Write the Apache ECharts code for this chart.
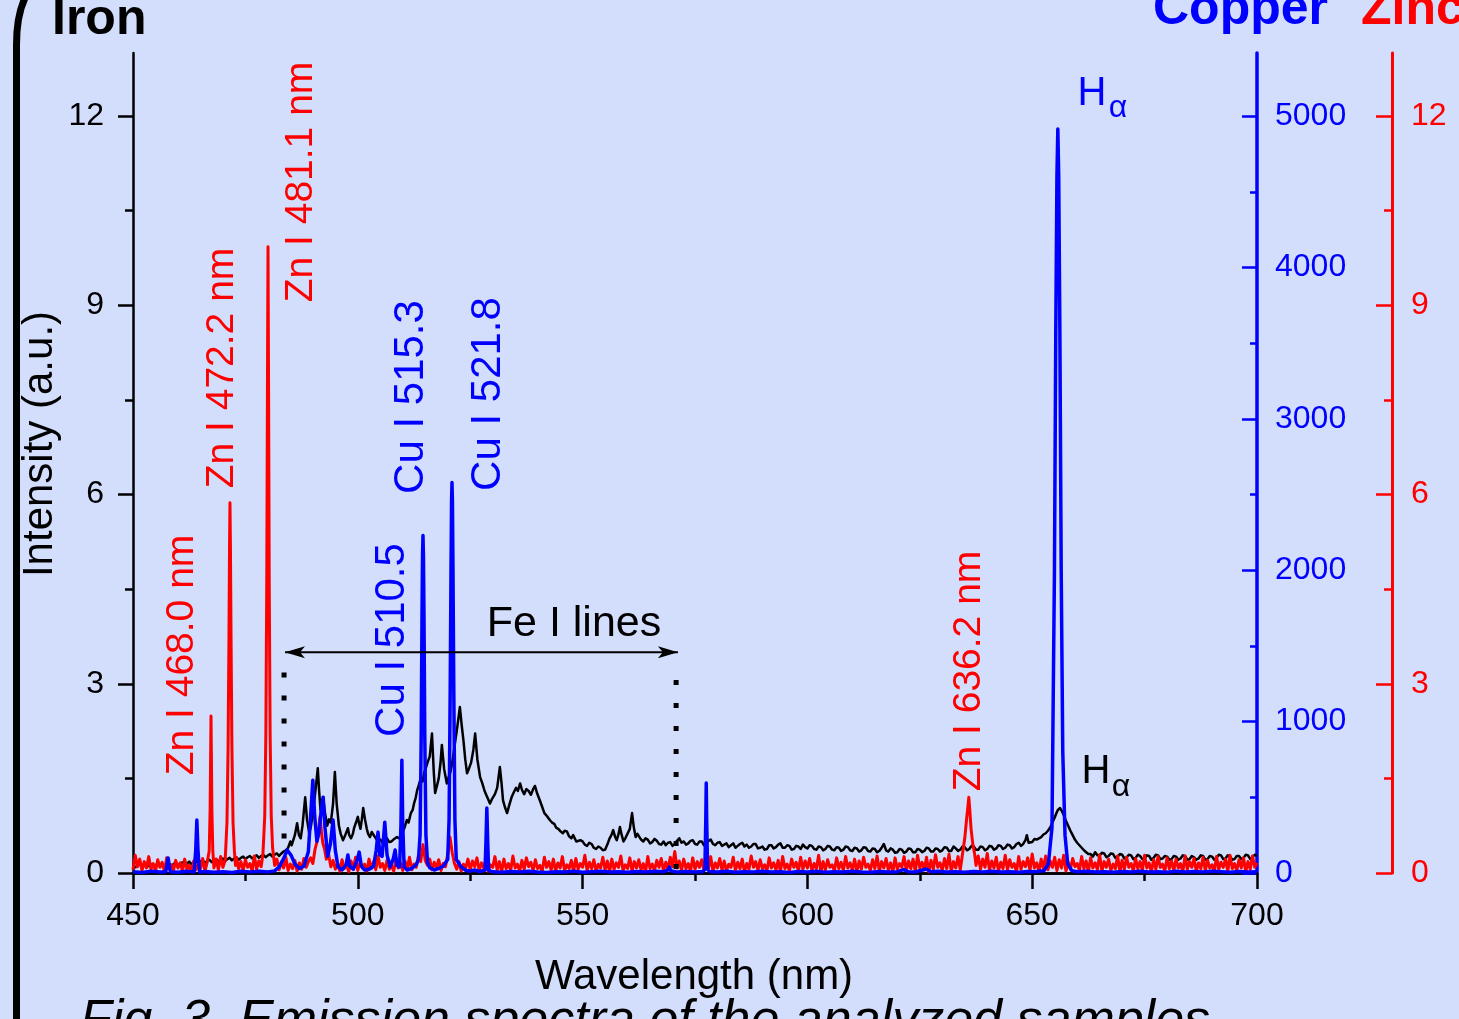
<!DOCTYPE html>
<html><head><meta charset="utf-8">
<script src="https://cdn.jsdelivr.net/npm/echarts@6/dist/echarts.min.js"></script>
<style>html,body{margin:0;padding:0;background:#d3ddfc;overflow:hidden}#c{width:1459px;height:1019px}</style>
</head><body><div id="c"></div><script>
// ---- data (wavelength nm, intensity) ----
const ironData = [[450,.12],[450.5,.09],[451,.11],[451.5,.14],[452,.10],[452.5,.13],[453,.09],[453.5,.12],[454,.14],[454.5,.10],[455,.12],[455.5,.15],[456,.11],[456.5,.14],[457,.10],[457.5,.13],[458,.15],[458.5,.11],[459,.14],[459.5,.16],[460,.12],[460.5,.15],[461,.17],[461.5,.13],[462,.15],[462.5,.18],[463,.14],[463.5,.17],[464,.19],[464.5,.15],[465,.18],[465.5,.20],[466,.16],[466.5,.19],[467,.21],[467.5,.17],[468,.20],[468.5,.22],[469,.18],[469.5,.21],[470,.23],[470.5,.19],[471,.22],[471.5,.24],[472,.20],[472.5,.23],[473,.25],[473.5,.21],[474,.24],[474.5,.26],[475,.22],[475.5,.25],[476,.27],[476.5,.23],[477,.26],[477.5,.28],[478,.24],[478.5,.27],[479,.29],[479.5,.25],[480,.28],[480.5,.30],[481,.26],[481.5,.29],[482,.31],[482.5,.27],[483,.31],[483.5,.34],
[484,.36],[484.5,.40],[485,.50],[485.3,.44],[485.6,.47],[486,.60],[486.5,.79],[486.9,.60],[487.3,.55],[487.7,.75],[488.3,1.20],[488.7,.85],[489.2,.63],[489.6,.75],[490,.95],[490.5,1.25],[491.1,1.66],[491.4,1.30],[491.7,1.0],[492,1.10],[492.3,1.2],[492.7,.95],[493.2,.75],[493.6,.85],[494,.8],[494.5,1.1],[494.9,1.6],[495.3,1.1],[495.8,.75],[496.2,.62],[496.7,.52],[497.2,.60],[497.8,.71],[498.1,.60],[498.5,.55],[498.9,.62],[499.2,.72],[499.6,.80],[500,.89],[500.3,.78],[500.6,.70],[500.9,.85],[501.2,1.03],[501.6,.85],[502,.70],[502.3,.62],[502.7,.57],[503.1,.65],[503.5,.62],[504,.55],[504.5,.50],[505,.53],[505.6,.47],[506,.52],[506.5,.55],[507,.49],[507.5,.50],[508.1,.54],[508.7,.57],[509.2,.55],[509.8,.62],[510.4,.72],[510.9,.84],[511.3,.80],[511.8,.95],[512.2,1.0],[512.5,1.10],[512.9,1.20],[513.2,1.31],[513.6,1.40],[514,1.50],[514.4,1.45],[514.8,1.60],[515.2,1.68],[515.5,1.75],[516,1.85],[516.5,2.21],[516.9,1.6],[517.2,1.27],[517.6,1.38],[518,1.50],[518.4,1.75],[518.7,2.03],[519.2,1.65],[519.8,1.42],[520.2,1.52],[520.6,1.60],[521,1.75],[521.5,2.0],[522.1,2.3],[522.7,2.63],[523.1,2.35],[523.5,2.10],[523.9,1.80],[524.3,1.58],[524.7,1.65],[525.2,1.75],[525.7,1.95],[526.1,2.21],[526.6,1.80],[527.2,1.52],[527.7,1.42],[528.2,1.30],[528.8,1.20],[529.4,1.10],[529.9,1.18],[530.5,1.25],[531,1.35],[531.6,1.68],[532,1.40],[532.3,1.15],[532.7,1.05],[533.2,.95],[533.7,1.08],[534.2,1.20],[534.7,1.28],[535.2,1.35],[535.6,1.30],[536.1,1.42],[536.5,1.32],[537,1.25],[537.5,1.33],[538,1.30],[538.5,1.24],[539,1.33],[539.4,1.38],[539.9,1.26],[540.5,1.15],[541,1.05],[541.5,.95],[542.1,.90],[542.7,.84],[543.2,.80],[543.7,.78],[544.1,.72],[544.6,.70],[545.1,.66],[545.6,.63],[546,.67],[546.5,.66],[547,.58],[547.5,.55],[547.9,.60],[548.2,.58],[548.6,.50],[549,.47],[549.5,.52],[550,.50],[550.5,.45],[551,.43],[551.5,.48],[552,.46],[552.5,.40],[553,.38],[553.5,.42],[554,.40],[554.5,.36],[555,.37],[555.5,.45],[556,.55],[556.4,.60],[556.8,.68],[557.2,.58],[557.6,.52],[558,.62],[558.3,.73],[558.7,.60],[559.1,.50],[559.5,.55],[559.9,.52],[560.5,.70],[561,.95],[561.4,.72],[561.8,.57],[562.2,.62],[562.6,.60],[563,.53],[563.5,.50],[564,.55],[564.5,.53],[565,.47],[565.5,.49],[566,.54],[566.5,.51],[567,.46],[567.5,.45],[568,.50],[568.5,.44],[569,.48],[569.5,.49],[570,.43],[570.5,.46],[571,.51],[571.5,.55],[572,.48],[572.5,.50],[573,.45],[573.5,.47],[574,.51],[574.5,.52],[575,.46],[575.5,.45],[576,.50],[576.5,.50],[577,.44],[577.5,.47],[578,.51],[578.5,.53],[579,.46],[579.5,.44],[580,.48],[580.5,.49],[581,.43],[581.5,.45],[582,.47],[582.5,.41],[583,.44],[583.5,.47],[584,.40],[584.5,.43],[585,.46],[585.5,.48],[586,.42],[586.5,.45],[587,.40],[587.5,.42],[588,.46],[588.5,.46],[589,.39],[589.5,.40],
[590,.42],[590.5,.37],[591,.38],[591.5,.44],[592,.44],[592.5,.39],[593,.41],[593.5,.45],[594,.47],[594.5,.40],[595,.40],[595.5,.44],[596,.43],[596.5,.37],[597,.38],[597.5,.43],[598,.42],[598.5,.38],[599,.45],[599.5,.41],[600,.39],[600.5,.44],[601,.43],[601.5,.38],[602,.37],[602.5,.42],[603,.41],[603.5,.36],[604,.38],[604.5,.43],[605,.42],[605.5,.37],[606,.36],[606.5,.41],[607,.40],[607.5,.35],[608,.37],[608.5,.42],[609,.41],[609.5,.36],[610,.35],[610.5,.40],[611,.39],[611.5,.34],[612,.36],[612.5,.41],[613,.40],[613.5,.35],[614,.34],[614.5,.39],[615,.38],[615.5,.33],[616,.35],[616.5,.40],[617,.46],[617.5,.36],[618,.34],[618.5,.39],[619,.37],[619.5,.32],[620,.33],[620.5,.38],[621,.37],[621.5,.32],[622,.34],[622.5,.39],[623,.38],[623.5,.33],[624,.33],[624.5,.38],[625,.37],[625.5,.33],[626,.35],[626.5,.40],[627,.39],[627.5,.34],[628,.34],[628.5,.39],[629,.38],[629.5,.34],[630,.36],[630.5,.41],[631,.40],[631.5,.35],[632,.35],[632.5,.42],[633,.39],[633.5,.35],[634,.37],[634.5,.42],[635,.41],[635.5,.36],[636,.38],[636.5,.43],[637,.42],[637.5,.37],[638,.37],[638.5,.42],[639,.41],[639.5,.36],[640,.38],[640.5,.43],[641,.42],[641.5,.37],[642,.39],[642.5,.44],[643,.43],[643.5,.38],[644,.40],[644.5,.45],[645,.44],[645.5,.39],[646,.41],[646.5,.46],[647,.48],[647.5,.43],[648,.46],[648.5,.52],[648.8,.60],[649.2,.48],[649.5,.50],[650,.49],[650.5,.54],[651,.53],[651.5,.55],[652,.57],[652.5,.61],[653,.63],[653.5,.67],[654,.72],[654.5,.80],[655,.88],[655.4,.95],[655.7,1.0],[656.2,1.03],[656.6,.98],[657,.92],[657.5,.83],[658,.75],[658.5,.67],[659,.60],[659.5,.53],[660,.48],[660.5,.44],[661,.40],[661.5,.36],[662,.33],[662.5,.30],[663,.30],[663.5,.26],[664,.33],[664.5,.28],[665,.28],[665.5,.32],[666,.31],[666.5,.25],[667,.27],[667.5,.31],[668,.30],[668.5,.24],[669,.26],[669.5,.30],[670,.29],[670.5,.23],[671,.25],[671.5,.29],[672,.28],[672.5,.22],[673,.24],[673.5,.29],[674,.27],[674.5,.22],[675,.23],[675.5,.28],[676,.27],[676.5,.21],[677,.24],[677.5,.29],[678,.28],[678.5,.22],[679,.23],[679.5,.27],[680,.26],[680.5,.21],[681,.22],[681.5,.27],[682,.26],[682.5,.21],[683,.23],[683.5,.28],[684,.27],[684.5,.21],[685,.22],[685.5,.27],[686,.25],[686.5,.21],[687,.23],[687.5,.28],[688,.27],[688.5,.21],[689,.22],[689.5,.27],[690,.26],[690.5,.21],[691,.24],[691.5,.29],[692,.28],[692.5,.22],[693,.23],[693.5,.28],[694,.26],[694.5,.21],[695,.22],[695.5,.27],[696,.27],[696.5,.22],[697,.24],[697.5,.29],[698,.28],[698.5,.22],[699,.25],[699.5,.29],[700,.27]];

const copperData = [[450,8],[452,4],[454,12],[456,6],[457.3,9],[457.8,99],[458.3,8],[460,5],[462,11],[463.6,7],[463.95,150],[464.2,350],[464.45,150],[464.8,7],[466,10],[468,5],[470,9],[472,4],[474,11],[476,6],[478,12],[480,7],[481.5,14],[482.5,40],[483.5,95],[484.3,152],[485.2,115],[486,60],[487,30],[488,45],[489,140],[489.6,420],[490,613],[490.4,380],[490.9,210],[491.4,270],[491.9,430],[492.3,501],[492.7,300],[493.3,110],[493.9,190],[494.5,350],[495,150],[495.6,40],[496.5,20],[497.4,55],[497.8,119],[498.2,45],[499,25],[499.8,80],[500.3,138],[500.8,45],[501.5,20],[502.5,25],[503.5,45],[504.1,150],[504.5,270],[504.9,120],[505.4,110],[506,336],[506.5,120],[507.2,40],[507.9,95],[508.3,152],[508.7,50],[509.3,40],[509.6,320],[509.8,745],[510,320],[510.3,40],[511,20],[512,30],[513,55],[513.5,90],[513.85,250],[514.1,900],[514.28,1700],[514.4,2100],[514.5,2229],[514.6,2100],[514.72,1700],[514.9,900],[515.15,250],[515.5,70],[516,35],[517,20],[518,30],[519,45],[520,90],[520.3,350],[520.55,1200],[520.73,2000],[520.85,2450],[520.95,2579],[521.05,2450],[521.17,2000],[521.35,1200],[521.6,350],[521.9,90],[523,40],[524,18],[525,12],[526,20],[527,10],[528.3,18],[528.5,200],[528.7,429],[528.9,200],[529.1,18],[530,8],[532,5],[534,10],[536,6],[538,12],[540,7],[542,4],[544,9],[546,6],[548,11],[550,5],[552,8],[554,12],[556,6],[558,9],[560,5],[562,10],[564,7],[566,12],[568,8],[569,20],[569.3,40],[569.6,15],[571,6],[573,10],[575,7],[576.8,10],[577.2,25],[577.4,350],[577.5,594],[577.6,350],[577.8,25],[578.2,10],[580,6],[582,11],[584,5],[586,9],[588,7],[590,12],[592,6],[594,9],[596,4],[598,10],[600,7],[602,12],[604,5],[606,9],[608,6],[610,11],[612,7],[614,5],[616,10],[618,6],[620,9],[621.4,22],[622.5,8],[624,7],[626.4,26],[627.5,8],[629,11],[631,6],[633,9],[635,5],[637,10],[639,6],[641,12],[643,7],[645,9],[647,5],[649,10],[650.5,8],[651.5,12],[652.6,15],[653.6,60],[654.4,300],[654.95,2000],[655.25,3600],[655.5,4600],[655.7,4914],[655.9,4600],[656.15,3600],[656.45,2000],[656.8,800],[657.3,250],[657.9,60],[658.8,15],[660,8],[662,11],[664,6],[666,9],[668,5],[670,10],[672,7],[674,12],[676,6],[678,9],[680,5],[682,11],[684,7],[686,10],[688,6],[690,12],[692,8],[694,5],[696,10],[698,7],[700,9]];

const zincData = [[450,.05],[450.5,.28],[451,.10],[451.5,.22],[452,.04],[452.5,.18],[453,.08],[453.5,.26],[454,.06],[454.5,.15],[455,.03],[455.5,.21],[456,.09],[456.5,.17],[457,.02],[457.5,.24],[458,.07],[458.5,.13],[459,.04],[459.5,.20],[460,.08],[460.5,.16],[461,.03],[461.5,.22],[462,.06],[462.5,.12],[463,.02],[463.5,.19],[464,.05],[464.5,.14],[465,.07],[465.5,.23],[466,.03],[466.5,.17],[466.95,.35],[467.15,1.0],[467.27,1.9],[467.35,2.49],[467.43,1.9],[467.55,1.0],[467.75,.35],[468,.08],[468.5,.22],[469,.05],[469.5,.26],[470,.09],[470.5,.20],[470.9,.8],[471.15,2.0],[471.35,3.8],[471.47,5.2],[471.57,5.87],[471.67,5.2],[471.8,3.8],[472,2.0],[472.25,.8],[472.55,.35],[472.8,.12],[473,.24],[473.5,.07],[474,.18],[474.5,.04],[475,.21],[475.5,.09],[476,.15],[476.5,.03],[477,.27],[477.5,.06],[478,.19],[478.5,.10],[478.9,.30],[479.3,.9],[479.55,2.2],[479.75,4.6],[479.9,7.6],[480.03,9.93],[480.16,7.6],[480.3,4.6],[480.5,2.2],[480.75,.9],[481.05,.4],[481.5,.12],[482,.22],[482.5,.05],[483,.17],[483.5,.08],[484,.25],[484.5,.04],[485,.14],[485.5,.07],[486,.20],[486.5,.03],[487,.16],[487.5,.06],[488,.23],[488.5,.09],[489,.18],[489.5,.24],[490,.15],[490.5,.38],[491,.52],[491.3,.70],[491.6,.89],[491.9,.66],[492.2,.48],[492.6,.38],[493,.22],[493.5,.30],[494,.10],[494.5,.20],[495,.06],[495.5,.16],[496,.03],[496.5,.21],[497,.07],[497.5,.13],[498,.02],[498.5,.19],[499,.06],[499.5,.25],[500,.04],[500.5,.17],[501,.08],[501.5,.14],[502,.03],[502.5,.22],[503,.07],[503.5,.18],[504,.05],[504.5,.27],[505,.09],[505.5,.15],[506,.04],[506.5,.20],[507,.06],[507.5,.12],[508,.03],[508.5,.23],[509,.08],[509.5,.16],[510,.04],[510.5,.19],[511,.07],[511.5,.25],[512,.05],[512.5,.14],[513,.09],[513.5,.28],[514,.18],[514.5,.45],[515,.20],[515.5,.12],[516,.22],[516.5,.05],[517,.17],[517.5,.08],[518,.21],[518.5,.04],[519,.15],[519.5,.10],[520,.30],[520.5,.57],[521,.32],[521.5,.15],[522,.06],[522.5,.18],[523,.03],[523.5,.14],[524,.08],[524.5,.22],[525,.05],[525.5,.19],[526,.10],[526.5,.24],[527,.04],[527.5,.16],[528,.08],[528.5,.21],[529,.03],[529.5,.13],[530,.09],[530.5,.26],[531,.05],[531.5,.18],[532,.02],[532.5,.22],[533,.07],[533.5,.15],[534,.04],[534.5,.27],[535,.08],[535.5,.14],[536,.03],[536.5,.20],[537,.06],[537.5,.24],[538,.10],[538.5,.17],[539,.04],[539.5,.21],[540,.07],[540.5,.12],[541,.02],[541.5,.25],[542,.09],[542.5,.18],[543,.05],[543.5,.22],[544,.03],[544.5,.16],[545,.08],[545.5,.26],[546,.04],[546.5,.13],[547,.07],[547.5,.20],[548,.02],[548.5,.23],[549,.06],[549.5,.15],[550,.09],[550.5,.28],[551,.04],[551.5,.17],[552,.07],[552.5,.21],[553,.03],[553.5,.14],[554,.08],[554.5,.25],[555,.05],[555.5,.19],[556,.02],[556.5,.22],[557,.06],[557.5,.16],[558,.09],[558.5,.27],[559,.04],[559.5,.13],[560,.07],[560.5,.24],[561,.03],[561.5,.18],[562,.08],[562.5,.21],[563,.05],[563.5,.15],[564,.02],[564.5,.26],[565,.07],[565.5,.14],[566,.04],[566.5,.20],[567,.09],[567.5,.23],[568,.03],[568.5,.17],[569,.06],[569.5,.25],[570,.10],[570.5,.34],[571,.08],[571.5,.19],[572,.04],[572.5,.22],[573,.07],[573.5,.15],[574,.03],[574.5,.24],[575,.06],[575.5,.18],[576,.09],[576.5,.21],[577,.04],[577.5,.13],[578,.07],[578.5,.26],[579,.02],[579.5,.16],[580,.08],[580.5,.23],[581,.05],[581.5,.19],[582,.03],[582.5,.14],[583,.09],[583.5,.25],[584,.04],[584.5,.17],[585,.07],[585.5,.22],[586,.02],[586.5,.15],[587,.06],[587.5,.27],[588,.09],[588.5,.18],[589,.04],[589.5,.21],[590,.07],[590.5,.13],[591,.03],[591.5,.24],[592,.08],[592.5,.16],[593,.05],[593.5,.20],[594,.02],[594.5,.26],[595,.07],[595.5,.14],[596,.04],[596.5,.22],[597,.09],[597.5,.17],[598,.03],[598.5,.25],[599,.06],[599.5,.19],[600,.08],[600.5,.23],[601,.04],[601.5,.15],[602,.07],[602.5,.28],[603,.02],[603.5,.18],[604,.05],[604.5,.21],[605,.09],[605.5,.13],[606,.03],[606.5,.24],[607,.07],[607.5,.17],[608,.04],[608.5,.26],[609,.08],[609.5,.16],[610,.05],[610.5,.22],[611,.02],[611.5,.19],[612,.06],[612.5,.25],[613,.09],[613.5,.14],[614,.04],[614.5,.21],[615,.07],[615.5,.27],[616,.03],[616.5,.18],[617,.08],[617.5,.23],[618,.05],[618.5,.16],[619,.02],[619.5,.24],[620,.06],[620.5,.15],[621,.09],[621.5,.26],[622,.04],[622.5,.19],[623,.07],[623.5,.22],[624,.03],[624.5,.28],[625,.08],[625.5,.17],[626,.05],[626.5,.25],[627,.02],[627.5,.20],[628,.06],[628.5,.29],[629,.09],[629.5,.16],[630,.04],[630.5,.23],[631,.07],[631.5,.30],[632,.03],[632.5,.18],[633,.08],[633.5,.26],[634,.05],[634.5,.30],[635,.55],[635.4,.85],[635.7,1.05],[635.9,1.20],[636.1,1.02],[636.4,.70],[636.8,.45],[637.2,.30],[637.5,.12],[638,.27],[638.5,.06],[639,.22],[639.5,.09],[640,.31],[640.5,.04],[641,.19],[641.5,.08],[642,.25],[642.5,.03],[643,.17],[643.5,.07],[644,.28],[644.5,.05],[645,.21],[645.5,.09],[646,.15],[646.5,.02],[647,.26],[647.5,.06],[648,.18],[648.5,.10],[649,.24],[649.5,.04],[650,.30],[650.5,.08],[651,.16],[651.5,.03],[652,.22],[652.5,.07],[653,.27],[653.5,.05],[654,.19],[654.5,.09],[655,.25],[655.5,.04],[656,.21],[656.5,.08],[657,.28],[657.5,.03],[658,.17],[658.5,.06],[659,.23],[659.5,.10],[660,.15],[660.5,.04],[661,.26],[661.5,.07],[662,.19],[662.5,.02],[663,.24],[663.5,.08],[664,.16],[664.5,.05],[665,.29],[665.5,.03],[666,.18],[666.5,.09],[667,.22],[667.5,.04],[668,.14],[668.5,.07],[669,.27],[669.5,.02],[670,.20],[670.5,.06],[671,.25],[671.5,.09],[672,.15],[672.5,.03],[673,.23],[673.5,.07],[674,.18],[674.5,.04],[675,.28],[675.5,.08],[676,.16],[676.5,.02],[677,.21],[677.5,.06],[678,.26],[678.5,.09],[679,.14],[679.5,.03],[680,.24],[680.5,.07],[681,.19],[681.5,.04],[682,.22],[682.5,.08],[683,.15],[683.5,.02],[684,.27],[684.5,.06],[685,.18],[685.5,.09],[686,.23],[686.5,.03],[687,.16],[687.5,.07],[688,.25],[688.5,.04],[689,.20],[689.5,.08],[690,.13],[690.5,.02],[691,.26],[691.5,.06],[692,.17],[692.5,.09],[693,.22],[693.5,.03],[694,.28],[694.5,.07],[695,.15],[695.5,.04],[696,.21],[696.5,.08],[697,.24],[697.5,.02],[698,.18],[698.5,.06],[699,.27],[699.5,.09],[700,.16]];

// ---- axis ticks ----
const xRange = [450, 700];
const xStep = 50;
const leftTicks = [0, 3, 6, 9, 12];
const leftMinor = [1.5, 4.5, 7.5, 10.5];
const leftMax = 13;
const copperTicks = [0, 1000, 2000, 3000, 4000, 5000];
const copperMinor = [500, 1500, 2500, 3500, 4500];
const copperMax = 5000 * 13 / 12;
const zincTicks = [0, 3, 6, 9, 12];
const zincMinor = [1.5, 4.5, 7.5, 10.5];
const zincMax = 13;

// ---- annotation geometry (data coordinates) ----
const feArrow = [[483.81, 3.5], [571.2, 3.5]];
const feLeftDots = [[483.6, 3.18], [483.6, 0.5]];
const feRightDots = [[570.8, 3.06], [570.8, 0.04]];

const FONT = '"Liberation Sans", Arial, Helvetica, sans-serif';
const RED = '#ff0000', BLUE = '#0000ff', BLACK = '#000000';

function txt(text, x, y, size, color, o) {
  o = o || {};
  return {
    type: 'text', x: x, y: y, rotation: o.rot || 0, z: 100,
    style: {
      text: text, fill: color, fontSize: size, fontFamily: FONT,
      fontWeight: o.weight || 'normal', fontStyle: o.italic ? 'italic' : 'normal',
      align: o.align || 'center', verticalAlign: 'middle'
    }
  };
}
const R = Math.PI / 2;
const plain = v => String(v);

const chart = echarts.init(document.getElementById('c'), null, {renderer: 'canvas'});

function yAx(o) {
  return Object.assign({
    type: 'value', min: 0, splitLine: {show: false}, minorSplitLine: {show: false}
  }, o);
}

chart.setOption({
  backgroundColor: '#d3ddfc',
  animation: false,
  grid: {left: 133, right: 202, top: 53, bottom: 146, containLabel: false},
  xAxis: [
    {
      type: 'value', position: 'bottom', min: xRange[0], max: xRange[1], interval: xStep,
      axisLine: {lineStyle: {color: BLACK, width: 2.5}},
      axisTick: {length: 12, lineStyle: {color: BLACK, width: 2.5}},
      minorTick: {show: true, splitNumber: 2, length: 6, lineStyle: {color: BLACK, width: 2.5}},
      axisLabel: {color: BLACK, fontSize: 32, fontFamily: FONT, margin: 27, formatter: plain},
      splitLine: {show: false}, minorSplitLine: {show: false}
    },
    {
      type: 'value', position: 'top', min: xRange[0], max: xRange[1], interval: xStep,
      axisLine: {lineStyle: {color: BLACK, width: 2.5}},
      axisTick: {inside: true, length: 16, lineStyle: {color: BLACK, width: 2.5}},
      minorTick: {show: true, splitNumber: 2, length: 8, lineStyle: {color: BLACK, width: 2.5}},
      axisLabel: {show: false},
      splitLine: {show: false}, minorSplitLine: {show: false}
    }
  ],
  yAxis: [
    yAx({
      position: 'left', max: leftMax,
      axisLine: {show: true, lineStyle: {color: BLACK, width: 2.5}},
      axisTick: {show: true, customValues: leftTicks, length: 15, lineStyle: {color: BLACK, width: 2.5}},
      axisLabel: {customValues: leftTicks, color: BLACK, fontSize: 32, fontFamily: FONT, margin: 29, formatter: plain}
    }),
    yAx({
      position: 'right', offset: 0, max: copperMax,
      axisLine: {show: true, lineStyle: {color: BLUE, width: 3.5}},
      axisTick: {show: true, inside: true, customValues: copperTicks, length: 15, lineStyle: {color: BLUE, width: 2.5}},
      axisLabel: {customValues: copperTicks, color: BLUE, fontSize: 32, fontFamily: FONT, margin: 18, formatter: plain}
    }),
    yAx({
      position: 'right', offset: 135, max: zincMax,
      axisLine: {show: true, lineStyle: {color: RED, width: 3}},
      axisTick: {show: true, inside: true, customValues: zincTicks, length: 16, lineStyle: {color: RED, width: 2.5}},
      axisLabel: {customValues: zincTicks, color: RED, fontSize: 32, fontFamily: FONT, margin: 19, formatter: plain}
    }),
    yAx({
      position: 'left', max: leftMax,
      axisLine: {show: false},
      axisTick: {show: true, customValues: leftMinor, length: 8, lineStyle: {color: BLACK, width: 2.5}},
      axisLabel: {show: false}
    }),
    yAx({
      position: 'right', offset: 0, max: copperMax,
      axisLine: {show: false},
      axisTick: {show: true, inside: true, customValues: copperMinor, length: 7, lineStyle: {color: BLUE, width: 2.5}},
      axisLabel: {show: false}
    }),
    yAx({
      position: 'right', offset: 135, max: zincMax,
      axisLine: {show: false},
      axisTick: {show: true, inside: true, customValues: zincMinor, length: 8, lineStyle: {color: RED, width: 2.5}},
      axisLabel: {show: false}
    })
  ],
  series: [
    {type: 'line', name: 'Iron', data: ironData, xAxisIndex: 0, yAxisIndex: 0, symbol: 'none',
      lineStyle: {color: BLACK, width: 2.5, join: 'round'}, z: 2},
    {type: 'line', name: 'Zinc', data: zincData, xAxisIndex: 0, yAxisIndex: 2, symbol: 'none',
      lineStyle: {color: RED, width: 3, join: 'round'}, z: 3},
    {type: 'line', name: 'Copper', data: copperData, xAxisIndex: 0, yAxisIndex: 1, symbol: 'none',
      lineStyle: {color: BLUE, width: 3.5, join: 'round'}, z: 4},
    {type: 'line', data: feLeftDots, xAxisIndex: 0, yAxisIndex: 0, symbol: 'none',
      lineStyle: {color: BLACK, width: 5, type: [5, 18], cap: 'butt'}, z: 5},
    {type: 'line', data: feRightDots, xAxisIndex: 0, yAxisIndex: 0, symbol: 'none',
      lineStyle: {color: BLACK, width: 5, type: [5, 18], cap: 'butt'}, z: 5},
    {type: 'line', data: [
        {value: feArrow[0], symbolRotate: 90},
        {value: feArrow[1], symbolRotate: -90}
      ], xAxisIndex: 0, yAxisIndex: 0, symbol: 'arrow', symbolSize: [9, 20], showSymbol: true,
      itemStyle: {color: BLACK}, lineStyle: {color: BLACK, width: 2}, z: 6}
  ],
  graphic: [
    {type: 'polyline', z: 100, shape: {points: [[16.5, 1030], [16.5, 44]]}, style: {stroke: BLACK, lineWidth: 7, fill: null}},
    {type: 'bezierCurve', z: 100, shape: {x1: 16.5, y1: 45, cpx1: 16.5, cpy1: 14, x2: 26, y2: -4}, style: {stroke: BLACK, lineWidth: 7, fill: null}},
    txt('Iron', 52, 20, 50, BLACK, {align: 'left', weight: 'bold'}),
    txt('Copper', 1153, 10, 50, BLUE, {align: 'left', weight: 'bold'}),
    txt('Zinc', 1361, 10, 50, RED, {align: 'left', weight: 'bold'}),
    txt('Intensity (a.u.)', 40, 444, 42, BLACK, {rot: R}),
    txt('Wavelength (nm)', 694, 977, 42, BLACK),
    txt('Fig. 3. Emission spectra of the analyzed samples', 80, 1022, 52, BLACK, {align: 'left', italic: true}),
    txt('Zn I 468.0 nm', 182, 655, 39, RED, {rot: R}),
    txt('Zn I 472.2 nm', 222, 368, 39, RED, {rot: R}),
    txt('Zn I 481.1 nm', 301, 182, 39, RED, {rot: R}),
    txt('Cu I 510.5', 392, 640, 42, BLUE, {rot: R}),
    txt('Cu I 515.3', 411, 397, 42, BLUE, {rot: R}),
    txt('Cu I 521.8', 488, 394, 42, BLUE, {rot: R}),
    txt('Zn I 636.2 nm', 969, 671, 39, RED, {rot: R}),
    txt('Fe I lines', 574, 624, 43, BLACK),
    txt('H', 1092, 94, 40, BLUE),
    txt('\u03b1', 1118, 108, 32, BLUE),
    txt('H', 1096, 772, 40, BLACK),
    txt('\u03b1', 1121, 787, 32, BLACK)
  ]
});
</script></body></html>
